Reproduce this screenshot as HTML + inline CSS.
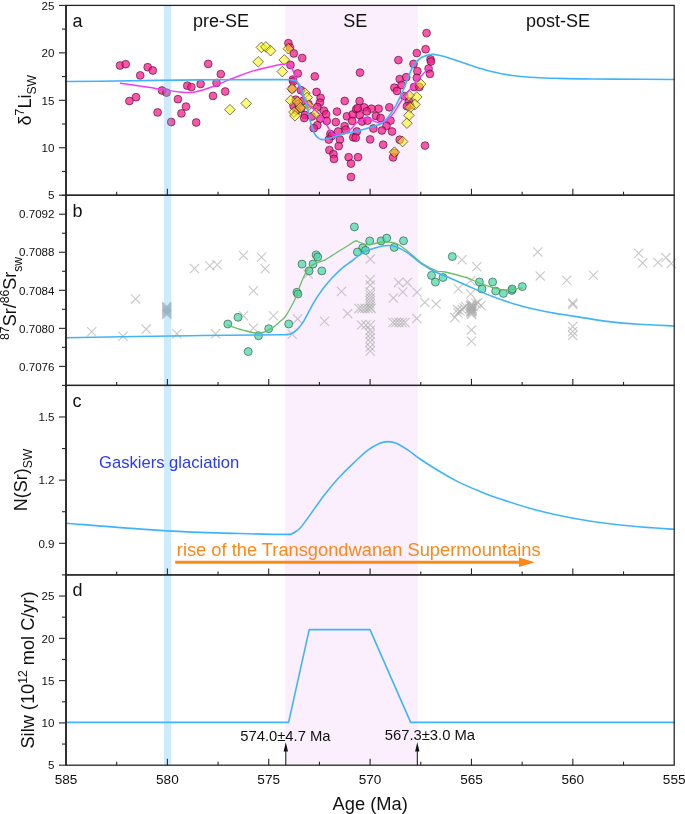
<!DOCTYPE html>
<html><head><meta charset="utf-8"><title>figure</title>
<style>html,body{margin:0;padding:0;background:#fff;} body{width:685px;height:814px;overflow:hidden;font-family:"Liberation Sans",sans-serif;} svg{display:block;will-change:transform;}</style>
</head><body>
<svg width="685" height="814" viewBox="0 0 685 814"><rect x="0" y="0" width="685" height="814" fill="#ffffff"/>
<rect x="285.0" y="5.4" width="133.0" height="759.8000000000001" fill="#fbeffd"/>
<g stroke="#3a0c24" stroke-width="0.75" stroke-opacity="0.8">
<circle cx="120.0" cy="65.5" r="3.9" fill="rgb(250,30,140)" fill-opacity="0.75"/>
<circle cx="125.7" cy="64.2" r="3.9" fill="rgb(250,30,140)" fill-opacity="0.75"/>
<circle cx="140.2" cy="75.4" r="3.9" fill="rgb(250,30,140)" fill-opacity="0.75"/>
<circle cx="147.7" cy="67.2" r="3.9" fill="rgb(250,30,140)" fill-opacity="0.75"/>
<circle cx="152.8" cy="70.5" r="3.9" fill="rgb(250,30,140)" fill-opacity="0.75"/>
<circle cx="129.4" cy="101.0" r="3.9" fill="rgb(250,30,140)" fill-opacity="0.75"/>
<circle cx="136.0" cy="97.2" r="3.9" fill="rgb(250,30,140)" fill-opacity="0.75"/>
<circle cx="157.6" cy="112.4" r="3.9" fill="rgb(250,30,140)" fill-opacity="0.75"/>
<circle cx="162.0" cy="90.5" r="3.9" fill="rgb(250,30,140)" fill-opacity="0.75"/>
<circle cx="166.5" cy="92.6" r="3.9" fill="rgb(250,30,140)" fill-opacity="0.75"/>
<circle cx="171.2" cy="122.0" r="3.9" fill="rgb(250,30,140)" fill-opacity="0.75"/>
<circle cx="177.9" cy="99.2" r="3.9" fill="rgb(250,30,140)" fill-opacity="0.75"/>
<circle cx="186.0" cy="106.6" r="3.9" fill="rgb(250,30,140)" fill-opacity="0.75"/>
<circle cx="181.4" cy="113.4" r="3.9" fill="rgb(250,30,140)" fill-opacity="0.75"/>
<circle cx="187.3" cy="85.7" r="3.9" fill="rgb(250,30,140)" fill-opacity="0.75"/>
<circle cx="191.4" cy="87.1" r="3.9" fill="rgb(250,30,140)" fill-opacity="0.75"/>
<circle cx="196.2" cy="122.5" r="3.9" fill="rgb(250,30,140)" fill-opacity="0.75"/>
<circle cx="200.6" cy="84.0" r="3.9" fill="rgb(250,30,140)" fill-opacity="0.75"/>
<circle cx="208.2" cy="63.9" r="3.9" fill="rgb(250,30,140)" fill-opacity="0.75"/>
<circle cx="220.8" cy="74.1" r="3.9" fill="rgb(250,30,140)" fill-opacity="0.75"/>
<circle cx="216.5" cy="82.9" r="3.9" fill="rgb(250,30,140)" fill-opacity="0.75"/>
<circle cx="225.2" cy="91.5" r="3.9" fill="rgb(250,30,140)" fill-opacity="0.75"/>
<circle cx="213.0" cy="95.9" r="3.9" fill="rgb(250,30,140)" fill-opacity="0.75"/>
<circle cx="288.4" cy="43.2" r="3.9" fill="rgb(250,30,140)" fill-opacity="0.75"/>
<circle cx="289.9" cy="47.5" r="3.9" fill="rgb(250,30,140)" fill-opacity="0.75"/>
<circle cx="293.8" cy="53.4" r="3.9" fill="rgb(250,30,140)" fill-opacity="0.75"/>
<circle cx="302.2" cy="58.0" r="3.9" fill="rgb(250,30,140)" fill-opacity="0.75"/>
<circle cx="290.5" cy="65.0" r="3.9" fill="rgb(250,30,140)" fill-opacity="0.75"/>
<circle cx="297.8" cy="73.4" r="3.9" fill="rgb(250,30,140)" fill-opacity="0.75"/>
<circle cx="314.8" cy="76.4" r="3.9" fill="rgb(250,30,140)" fill-opacity="0.75"/>
<circle cx="292.8" cy="79.6" r="3.9" fill="rgb(250,30,140)" fill-opacity="0.75"/>
<circle cx="293.2" cy="81.5" r="3.9" fill="rgb(250,30,140)" fill-opacity="0.75"/>
<circle cx="292.1" cy="88.8" r="3.9" fill="rgb(250,30,140)" fill-opacity="0.75"/>
<circle cx="300.9" cy="90.2" r="3.9" fill="rgb(250,30,140)" fill-opacity="0.75"/>
<circle cx="316.6" cy="92.0" r="3.9" fill="rgb(250,30,140)" fill-opacity="0.75"/>
<circle cx="320.6" cy="97.9" r="3.9" fill="rgb(250,30,140)" fill-opacity="0.75"/>
<circle cx="319.9" cy="102.6" r="3.9" fill="rgb(250,30,140)" fill-opacity="0.75"/>
<circle cx="295.8" cy="99.7" r="3.9" fill="rgb(250,30,140)" fill-opacity="0.75"/>
<circle cx="293.6" cy="105.9" r="3.9" fill="rgb(250,30,140)" fill-opacity="0.75"/>
<circle cx="308.5" cy="104.1" r="3.9" fill="rgb(250,30,140)" fill-opacity="0.75"/>
<circle cx="304.9" cy="115.0" r="3.9" fill="rgb(250,30,140)" fill-opacity="0.75"/>
<circle cx="304.2" cy="118.0" r="3.9" fill="rgb(250,30,140)" fill-opacity="0.75"/>
<circle cx="311.8" cy="116.5" r="3.9" fill="rgb(250,30,140)" fill-opacity="0.75"/>
<circle cx="317.3" cy="107.0" r="3.9" fill="rgb(250,30,140)" fill-opacity="0.75"/>
<circle cx="323.9" cy="110.7" r="3.9" fill="rgb(250,30,140)" fill-opacity="0.75"/>
<circle cx="326.1" cy="114.3" r="3.9" fill="rgb(250,30,140)" fill-opacity="0.75"/>
<circle cx="326.8" cy="120.9" r="3.9" fill="rgb(250,30,140)" fill-opacity="0.75"/>
<circle cx="320.2" cy="118.7" r="3.9" fill="rgb(250,30,140)" fill-opacity="0.75"/>
<circle cx="317.3" cy="125.3" r="3.9" fill="rgb(250,30,140)" fill-opacity="0.75"/>
<circle cx="313.7" cy="128.2" r="3.9" fill="rgb(250,30,140)" fill-opacity="0.75"/>
<circle cx="330.4" cy="134.0" r="3.9" fill="rgb(250,30,140)" fill-opacity="0.75"/>
<circle cx="344.7" cy="100.9" r="3.9" fill="rgb(250,30,140)" fill-opacity="0.75"/>
<circle cx="359.6" cy="101.1" r="3.9" fill="rgb(250,30,140)" fill-opacity="0.75"/>
<circle cx="337.0" cy="111.6" r="3.9" fill="rgb(250,30,140)" fill-opacity="0.75"/>
<circle cx="335.8" cy="122.1" r="3.9" fill="rgb(250,30,140)" fill-opacity="0.75"/>
<circle cx="346.9" cy="116.3" r="3.9" fill="rgb(250,30,140)" fill-opacity="0.75"/>
<circle cx="352.7" cy="114.5" r="3.9" fill="rgb(250,30,140)" fill-opacity="0.75"/>
<circle cx="356.2" cy="109.3" r="3.9" fill="rgb(250,30,140)" fill-opacity="0.75"/>
<circle cx="359.7" cy="115.1" r="3.9" fill="rgb(250,30,140)" fill-opacity="0.75"/>
<circle cx="352.2" cy="121.0" r="3.9" fill="rgb(250,30,140)" fill-opacity="0.75"/>
<circle cx="362.1" cy="121.5" r="3.9" fill="rgb(250,30,140)" fill-opacity="0.75"/>
<circle cx="344.6" cy="126.2" r="3.9" fill="rgb(250,30,140)" fill-opacity="0.75"/>
<circle cx="345.7" cy="129.7" r="3.9" fill="rgb(250,30,140)" fill-opacity="0.75"/>
<circle cx="338.1" cy="131.5" r="3.9" fill="rgb(250,30,140)" fill-opacity="0.75"/>
<circle cx="356.8" cy="131.5" r="3.9" fill="rgb(250,30,140)" fill-opacity="0.75"/>
<circle cx="353.3" cy="137.3" r="3.9" fill="rgb(250,30,140)" fill-opacity="0.75"/>
<circle cx="331.7" cy="136.1" r="3.9" fill="rgb(250,30,140)" fill-opacity="0.75"/>
<circle cx="328.8" cy="139.6" r="3.9" fill="rgb(250,30,140)" fill-opacity="0.75"/>
<circle cx="339.9" cy="139.6" r="3.9" fill="rgb(250,30,140)" fill-opacity="0.75"/>
<circle cx="338.7" cy="146.1" r="3.9" fill="rgb(250,30,140)" fill-opacity="0.75"/>
<circle cx="329.4" cy="150.1" r="3.9" fill="rgb(250,30,140)" fill-opacity="0.75"/>
<circle cx="333.5" cy="154.2" r="3.9" fill="rgb(250,30,140)" fill-opacity="0.75"/>
<circle cx="334.0" cy="158.9" r="3.9" fill="rgb(250,30,140)" fill-opacity="0.75"/>
<circle cx="348.6" cy="157.2" r="3.9" fill="rgb(250,30,140)" fill-opacity="0.75"/>
<circle cx="358.0" cy="157.2" r="3.9" fill="rgb(250,30,140)" fill-opacity="0.75"/>
<circle cx="351.0" cy="163.6" r="3.9" fill="rgb(250,30,140)" fill-opacity="0.75"/>
<circle cx="351.0" cy="177.0" r="3.9" fill="rgb(250,30,140)" fill-opacity="0.75"/>
<circle cx="360.0" cy="72.6" r="3.9" fill="rgb(250,30,140)" fill-opacity="0.75"/>
<circle cx="298.5" cy="104.0" r="3.9" fill="rgb(250,30,140)" fill-opacity="0.75"/>
<circle cx="301.0" cy="108.5" r="3.9" fill="rgb(250,30,140)" fill-opacity="0.75"/>
<circle cx="296.5" cy="110.5" r="3.9" fill="rgb(250,30,140)" fill-opacity="0.75"/>
<circle cx="303.0" cy="101.0" r="3.9" fill="rgb(250,30,140)" fill-opacity="0.75"/>
<circle cx="426.6" cy="33.1" r="3.9" fill="rgb(250,30,140)" fill-opacity="0.75"/>
<circle cx="425.6" cy="49.2" r="3.9" fill="rgb(250,30,140)" fill-opacity="0.75"/>
<circle cx="416.8" cy="53.1" r="3.9" fill="rgb(250,30,140)" fill-opacity="0.75"/>
<circle cx="398.4" cy="60.1" r="3.9" fill="rgb(250,30,140)" fill-opacity="0.75"/>
<circle cx="413.5" cy="64.0" r="3.9" fill="rgb(250,30,140)" fill-opacity="0.75"/>
<circle cx="430.5" cy="59.4" r="3.9" fill="rgb(250,30,140)" fill-opacity="0.75"/>
<circle cx="431.0" cy="61.5" r="3.9" fill="rgb(250,30,140)" fill-opacity="0.75"/>
<circle cx="417.4" cy="71.2" r="3.9" fill="rgb(250,30,140)" fill-opacity="0.75"/>
<circle cx="428.6" cy="68.6" r="3.9" fill="rgb(250,30,140)" fill-opacity="0.75"/>
<circle cx="429.9" cy="73.9" r="3.9" fill="rgb(250,30,140)" fill-opacity="0.75"/>
<circle cx="399.7" cy="79.1" r="3.9" fill="rgb(250,30,140)" fill-opacity="0.75"/>
<circle cx="406.2" cy="77.2" r="3.9" fill="rgb(250,30,140)" fill-opacity="0.75"/>
<circle cx="416.8" cy="77.8" r="3.9" fill="rgb(250,30,140)" fill-opacity="0.75"/>
<circle cx="401.6" cy="85.0" r="3.9" fill="rgb(250,30,140)" fill-opacity="0.75"/>
<circle cx="394.4" cy="87.7" r="3.9" fill="rgb(250,30,140)" fill-opacity="0.75"/>
<circle cx="397.0" cy="91.0" r="3.9" fill="rgb(250,30,140)" fill-opacity="0.75"/>
<circle cx="414.1" cy="87.0" r="3.9" fill="rgb(250,30,140)" fill-opacity="0.75"/>
<circle cx="419.4" cy="87.0" r="3.9" fill="rgb(250,30,140)" fill-opacity="0.75"/>
<circle cx="404.3" cy="96.2" r="3.9" fill="rgb(250,30,140)" fill-opacity="0.75"/>
<circle cx="408.9" cy="101.5" r="3.9" fill="rgb(250,30,140)" fill-opacity="0.75"/>
<circle cx="410.2" cy="105.4" r="3.9" fill="rgb(250,30,140)" fill-opacity="0.75"/>
<circle cx="389.3" cy="107.3" r="3.9" fill="rgb(250,30,140)" fill-opacity="0.75"/>
<circle cx="378.6" cy="108.7" r="3.9" fill="rgb(250,30,140)" fill-opacity="0.75"/>
<circle cx="371.4" cy="108.7" r="3.9" fill="rgb(250,30,140)" fill-opacity="0.75"/>
<circle cx="364.2" cy="107.4" r="3.9" fill="rgb(250,30,140)" fill-opacity="0.75"/>
<circle cx="357.6" cy="108.1" r="3.9" fill="rgb(250,30,140)" fill-opacity="0.75"/>
<circle cx="366.8" cy="111.4" r="3.9" fill="rgb(250,30,140)" fill-opacity="0.75"/>
<circle cx="376.0" cy="116.0" r="3.9" fill="rgb(250,30,140)" fill-opacity="0.75"/>
<circle cx="380.6" cy="118.0" r="3.9" fill="rgb(250,30,140)" fill-opacity="0.75"/>
<circle cx="367.5" cy="120.6" r="3.9" fill="rgb(250,30,140)" fill-opacity="0.75"/>
<circle cx="390.5" cy="120.6" r="3.9" fill="rgb(250,30,140)" fill-opacity="0.75"/>
<circle cx="386.5" cy="125.9" r="3.9" fill="rgb(250,30,140)" fill-opacity="0.75"/>
<circle cx="373.4" cy="128.5" r="3.9" fill="rgb(250,30,140)" fill-opacity="0.75"/>
<circle cx="381.9" cy="130.5" r="3.9" fill="rgb(250,30,140)" fill-opacity="0.75"/>
<circle cx="392.0" cy="131.5" r="3.9" fill="rgb(250,30,140)" fill-opacity="0.75"/>
<circle cx="370.1" cy="139.4" r="3.9" fill="rgb(250,30,140)" fill-opacity="0.75"/>
<circle cx="355.7" cy="137.7" r="3.9" fill="rgb(250,30,140)" fill-opacity="0.75"/>
<circle cx="383.2" cy="144.7" r="3.9" fill="rgb(250,30,140)" fill-opacity="0.75"/>
<circle cx="399.7" cy="139.7" r="3.9" fill="rgb(250,30,140)" fill-opacity="0.75"/>
<circle cx="394.4" cy="152.8" r="3.9" fill="rgb(250,30,140)" fill-opacity="0.75"/>
<circle cx="393.1" cy="157.4" r="3.9" fill="rgb(250,30,140)" fill-opacity="0.75"/>
<circle cx="425.0" cy="145.6" r="3.9" fill="rgb(250,30,140)" fill-opacity="0.75"/>
<circle cx="406.9" cy="106.2" r="3.9" fill="rgb(250,30,140)" fill-opacity="0.75"/>
</g>
<g stroke="#3a3a20" stroke-width="0.75" stroke-opacity="0.9">
<path d="M261.4,42.1L266.7,47.4L261.4,52.7L256.1,47.4Z" fill="rgb(252,245,10)" fill-opacity="0.55"/>
<path d="M265.9,41.6L271.2,46.9L265.9,52.2L260.6,46.9Z" fill="rgb(252,245,10)" fill-opacity="0.55"/>
<path d="M270.6,45.4L275.9,50.7L270.6,56.0L265.3,50.7Z" fill="rgb(252,245,10)" fill-opacity="0.55"/>
<path d="M258.2,56.5L263.5,61.8L258.2,67.1L252.9,61.8Z" fill="rgb(252,245,10)" fill-opacity="0.55"/>
<path d="M246.2,98.1L251.5,103.4L246.2,108.7L240.9,103.4Z" fill="rgb(252,245,10)" fill-opacity="0.55"/>
<path d="M229.9,104.4L235.2,109.7L229.9,115.0L224.6,109.7Z" fill="rgb(252,245,10)" fill-opacity="0.55"/>
<path d="M284.3,54.6L289.6,59.9L284.3,65.2L279.0,59.9Z" fill="rgb(252,245,10)" fill-opacity="0.55"/>
<path d="M282.3,66.3L287.6,71.6L282.3,76.9L277.0,71.6Z" fill="rgb(252,245,10)" fill-opacity="0.55"/>
<path d="M288.4,43.4L293.7,48.7L288.4,54.0L283.1,48.7Z" fill="rgb(252,245,10)" fill-opacity="0.55"/>
<path d="M290.7,95.1L296.0,100.4L290.7,105.7L285.4,100.4Z" fill="rgb(252,245,10)" fill-opacity="0.55"/>
<path d="M292.1,83.5L297.4,88.8L292.1,94.1L286.8,88.8Z" fill="rgb(252,245,10)" fill-opacity="0.55"/>
<path d="M304.9,87.8L310.2,93.1L304.9,98.4L299.6,93.1Z" fill="rgb(252,245,10)" fill-opacity="0.55"/>
<path d="M307.1,92.2L312.4,97.5L307.1,102.8L301.8,97.5Z" fill="rgb(252,245,10)" fill-opacity="0.55"/>
<path d="M297.6,96.6L302.9,101.9L297.6,107.2L292.3,101.9Z" fill="rgb(252,245,10)" fill-opacity="0.55"/>
<path d="M300.5,102.4L305.8,107.7L300.5,113.0L295.2,107.7Z" fill="rgb(252,245,10)" fill-opacity="0.55"/>
<path d="M294.0,106.8L299.3,112.1L294.0,117.4L288.7,112.1Z" fill="rgb(252,245,10)" fill-opacity="0.55"/>
<path d="M295.0,110.5L300.3,115.8L295.0,121.1L289.7,115.8Z" fill="rgb(252,245,10)" fill-opacity="0.55"/>
<path d="M308.5,100.2L313.8,105.5L308.5,110.8L303.2,105.5Z" fill="rgb(252,245,10)" fill-opacity="0.55"/>
<path d="M316.2,107.9L321.5,113.2L316.2,118.5L310.9,113.2Z" fill="rgb(252,245,10)" fill-opacity="0.55"/>
<path d="M420.7,78.8L426.0,84.1L420.7,89.4L415.4,84.1Z" fill="rgb(252,245,10)" fill-opacity="0.55"/>
<path d="M416.8,91.7L422.1,97.0L416.8,102.3L411.5,97.0Z" fill="rgb(252,245,10)" fill-opacity="0.55"/>
<path d="M408.9,90.2L414.2,95.5L408.9,100.8L403.6,95.5Z" fill="rgb(252,245,10)" fill-opacity="0.55"/>
<path d="M415.0,99.2L420.3,104.5L415.0,109.8L409.7,104.5Z" fill="rgb(252,245,10)" fill-opacity="0.55"/>
<path d="M410.2,102.2L415.5,107.5L410.2,112.8L404.9,107.5Z" fill="rgb(252,245,10)" fill-opacity="0.55"/>
<path d="M408.9,110.1L414.2,115.4L408.9,120.7L403.6,115.4Z" fill="rgb(252,245,10)" fill-opacity="0.55"/>
<path d="M406.9,117.9L412.2,123.2L406.9,128.5L401.6,123.2Z" fill="rgb(252,245,10)" fill-opacity="0.55"/>
<path d="M402.6,136.3L407.9,141.6L402.6,146.9L397.3,141.6Z" fill="rgb(252,245,10)" fill-opacity="0.55"/>
<path d="M394.4,146.9L399.7,152.2L394.4,157.5L389.1,152.2Z" fill="rgb(252,245,10)" fill-opacity="0.55"/>
</g>
<path d="M120.4,83.3 C123.7,83.8 132.3,84.9 140.0,86.0 C147.7,87.1 159.7,89.1 166.4,90.1 C173.1,91.1 175.5,91.6 180.0,92.0 C184.5,92.4 188.5,93.0 193.4,92.3 C198.3,91.6 204.5,89.5 209.6,87.7 C214.7,86.0 219.3,83.8 224.2,81.8 C229.1,79.8 233.9,77.8 238.8,76.0 C243.7,74.2 248.5,72.4 253.4,70.9 C258.3,69.4 263.1,68.3 268.0,67.2 C272.9,66.1 279.3,64.8 282.6,64.3 C285.9,63.8 286.6,63.6 288.0,63.9 C289.4,64.2 289.9,64.7 290.8,66.0 C291.7,67.3 292.6,69.7 293.5,72.0 C294.4,74.3 295.2,77.6 296.1,80.0 C297.0,82.4 297.8,83.5 299.0,86.5 C300.2,89.5 301.8,94.9 303.4,98.0 C305.0,101.1 306.4,102.9 308.5,105.0 C310.6,107.1 313.6,108.8 315.8,110.7 C318.0,112.6 319.9,114.1 321.7,116.5 C323.5,118.9 325.1,122.3 326.8,125.0 C328.5,127.7 329.9,130.8 331.7,132.5 C333.5,134.2 335.3,134.9 337.6,135.0 C339.9,135.1 343.4,134.3 345.7,133.2 C348.0,132.1 349.8,130.2 351.6,128.5 C353.4,126.8 354.8,124.4 356.5,123.0 C358.2,121.6 359.7,120.8 361.6,120.0 C363.5,119.2 365.9,117.8 368.1,118.0 C370.3,118.2 372.5,120.4 374.7,121.3 C376.9,122.2 379.1,123.5 381.3,123.2 C383.5,122.9 385.6,121.2 387.8,119.3 C390.0,117.4 392.4,114.8 394.4,112.1 C396.4,109.4 398.2,105.7 400.0,103.0 C401.8,100.3 402.8,98.9 404.9,96.0 C407.0,93.1 410.2,89.0 412.8,85.7 C415.4,82.5 418.5,79.0 420.7,76.5 C422.9,74.0 424.2,72.7 426.0,71.0 C427.8,69.3 430.3,67.2 431.2,66.5" fill="none" stroke="#f03cf0" stroke-width="1.45" stroke-linejoin="round" stroke-linecap="round" />
<path d="M66.0,81.5 C71.7,81.5 77.7,81.5 100.0,81.2 C122.3,80.9 170.0,80.2 200.0,79.9 C230.0,79.6 264.7,79.6 280.0,79.6 C295.3,79.6 289.2,79.6 292.0,79.9 C294.8,80.2 295.2,80.7 296.5,81.5 C297.8,82.3 298.6,83.5 299.5,85.0 C300.4,86.5 301.0,87.8 302.0,90.5 C303.0,93.2 304.3,97.9 305.3,101.0 C306.3,104.1 307.0,106.0 307.8,109.2 C308.6,112.4 309.2,116.8 310.0,120.0 C310.8,123.2 311.7,125.8 312.5,128.2 C313.3,130.6 314.0,132.8 315.0,134.5 C316.0,136.2 317.3,137.3 318.5,138.2 C319.7,139.0 320.6,139.6 322.4,139.6 C324.2,139.6 326.9,139.0 329.2,138.4 C331.5,137.8 333.6,137.0 336.0,136.2 C338.4,135.4 340.1,134.7 343.8,133.8 C347.5,132.9 353.5,132.1 358.4,130.9 C363.3,129.7 369.2,127.7 373.0,126.5 C376.8,125.3 378.9,125.0 381.3,123.5 C383.7,122.0 385.7,119.8 387.6,117.7 C389.5,115.6 391.0,113.2 392.5,111.0 C394.0,108.8 395.1,106.9 396.4,104.6 C397.6,102.3 398.8,99.8 400.0,97.3 C401.2,94.8 402.2,92.5 403.5,89.5 C404.8,86.5 405.9,83.1 407.6,79.1 C409.3,75.1 411.3,69.0 413.5,65.5 C415.7,62.0 418.2,59.8 420.7,58.0 C423.2,56.2 426.4,55.5 428.6,54.9 C430.8,54.3 431.1,54.1 433.8,54.4 C436.5,54.7 440.9,55.6 445.0,56.8 C449.1,57.9 453.9,59.7 458.7,61.3 C463.5,62.9 468.9,64.9 474.0,66.5 C479.1,68.1 484.8,69.8 489.6,71.0 C494.4,72.2 498.5,73.2 503.0,74.0 C507.5,74.8 511.4,75.4 516.7,76.0 C522.0,76.6 528.5,77.1 535.0,77.5 C541.5,77.9 547.1,78.1 555.4,78.3 C563.7,78.5 575.3,78.8 585.0,78.9 C594.7,79.0 598.5,79.0 613.4,79.1 C628.3,79.2 664.1,79.4 674.2,79.5" fill="none" stroke="#40b4f8" stroke-width="1.6" stroke-linejoin="round" stroke-linecap="round" />
<g stroke="rgb(172,172,172)" stroke-opacity="0.65" stroke-width="1.15" fill="none">
<path d="M87.1,327.2L96.3,336.4M87.1,336.4L96.3,327.2"/>
<path d="M118.4,331.7L127.6,340.9M118.4,340.9L127.6,331.7"/>
<path d="M131.0,294.3L140.2,303.5M131.0,303.5L140.2,294.3"/>
<path d="M141.6,324.5L150.8,333.7M141.6,333.7L150.8,324.5"/>
<path d="M162.2,301.9L171.4,311.1M162.2,311.1L171.4,301.9"/>
<path d="M162.2,302.9L171.4,312.1M162.2,312.1L171.4,302.9"/>
<path d="M162.2,303.9L171.4,313.1M162.2,313.1L171.4,303.9"/>
<path d="M162.2,304.9L171.4,314.1M162.2,314.1L171.4,304.9"/>
<path d="M162.2,305.9L171.4,315.1M162.2,315.1L171.4,305.9"/>
<path d="M162.2,306.9L171.4,316.1M162.2,316.1L171.4,306.9"/>
<path d="M162.2,307.9L171.4,317.1M162.2,317.1L171.4,307.9"/>
<path d="M162.2,308.9L171.4,318.1M162.2,318.1L171.4,308.9"/>
<path d="M162.2,309.9L171.4,319.1M162.2,319.1L171.4,309.9"/>
<path d="M172.3,329.2L181.5,338.4M172.3,338.4L181.5,329.2"/>
<path d="M189.9,264.0L199.1,273.2M189.9,273.2L199.1,264.0"/>
<path d="M205.2,261.2L214.4,270.4M205.2,270.4L214.4,261.2"/>
<path d="M212.6,260.1L221.8,269.3M212.6,269.3L221.8,260.1"/>
<path d="M238.9,250.9L248.1,260.1M238.9,260.1L248.1,250.9"/>
<path d="M256.9,252.6L266.1,261.8M256.9,261.8L266.1,252.6"/>
<path d="M260.6,264.2L269.8,273.4M260.6,273.4L269.8,264.2"/>
<path d="M248.8,286.1L258.0,295.3M248.8,295.3L258.0,286.1"/>
<path d="M210.9,329.2L220.1,338.4M210.9,338.4L220.1,329.2"/>
<path d="M238.9,311.2L248.1,320.4M238.9,320.4L248.1,311.2"/>
<path d="M268.8,311.2L278.0,320.4M268.8,320.4L278.0,311.2"/>
<path d="M248.8,323.5L258.0,332.7M248.8,332.7L258.0,323.5"/>
<path d="M293.1,314.3L302.3,323.5M293.1,323.5L302.3,314.3"/>
<path d="M287.6,329.6L296.8,338.8M287.6,338.8L296.8,329.6"/>
<path d="M303.5,269.3L312.7,278.5M303.5,278.5L312.7,269.3"/>
<path d="M319.9,316.6L329.1,325.8M319.9,325.8L329.1,316.6"/>
<path d="M365.6,254.5L374.8,263.7M365.6,263.7L374.8,254.5"/>
<path d="M365.6,275.2L374.8,284.4M365.6,284.4L374.8,275.2"/>
<path d="M365.6,280.5L374.8,289.7M365.6,289.7L374.8,280.5"/>
<path d="M365.6,287.4L374.8,296.6M365.6,296.6L374.8,287.4"/>
<path d="M365.6,290.4L374.8,299.6M365.6,299.6L374.8,290.4"/>
<path d="M365.6,293.4L374.8,302.6M365.6,302.6L374.8,293.4"/>
<path d="M365.6,296.4L374.8,305.6M365.6,305.6L374.8,296.4"/>
<path d="M365.6,299.4L374.8,308.6M365.6,308.6L374.8,299.4"/>
<path d="M365.6,302.4L374.8,311.6M365.6,311.6L374.8,302.4"/>
<path d="M354.4,303.8L363.6,313.0M354.4,313.0L363.6,303.8"/>
<path d="M357.4,303.8L366.6,313.0M357.4,313.0L366.6,303.8"/>
<path d="M360.4,303.8L369.6,313.0M360.4,313.0L369.6,303.8"/>
<path d="M363.4,303.8L372.6,313.0M363.4,313.0L372.6,303.8"/>
<path d="M366.4,303.8L375.6,313.0M366.4,313.0L375.6,303.8"/>
<path d="M356.9,320.4L366.1,329.6M356.9,329.6L366.1,320.4"/>
<path d="M361.4,320.4L370.6,329.6M361.4,329.6L370.6,320.4"/>
<path d="M365.7,320.4L374.9,329.6M365.7,329.6L374.9,320.4"/>
<path d="M365.6,325.7L374.8,334.9M365.6,334.9L374.8,325.7"/>
<path d="M365.6,329.4L374.8,338.6M365.6,338.6L374.8,329.4"/>
<path d="M365.6,333.4L374.8,342.6M365.6,342.6L374.8,333.4"/>
<path d="M365.6,337.4L374.8,346.6M365.6,346.6L374.8,337.4"/>
<path d="M365.6,342.4L374.8,351.6M365.6,351.6L374.8,342.4"/>
<path d="M365.6,346.4L374.8,355.6M365.6,355.6L374.8,346.4"/>
<path d="M336.9,286.9L346.1,296.1M336.9,296.1L346.1,286.9"/>
<path d="M343.0,309.0L352.2,318.2M343.0,318.2L352.2,309.0"/>
<path d="M388.7,293.4L397.9,302.6M388.7,302.6L397.9,293.4"/>
<path d="M394.0,277.8L403.2,287.0M394.0,287.0L403.2,277.8"/>
<path d="M402.7,277.8L411.9,287.0M402.7,287.0L411.9,277.8"/>
<path d="M398.2,287.4L407.4,296.6M398.2,296.6L407.4,287.4"/>
<path d="M412.4,287.7L421.6,296.9M412.4,296.9L421.6,287.7"/>
<path d="M420.2,297.8L429.4,307.0M420.2,307.0L429.4,297.8"/>
<path d="M431.5,299.5L440.7,308.7M431.5,308.7L440.7,299.5"/>
<path d="M412.2,314.0L421.4,323.2M412.2,323.2L421.4,314.0"/>
<path d="M388.4,317.9L397.6,327.1M388.4,327.1L397.6,317.9"/>
<path d="M391.4,317.9L400.6,327.1M391.4,327.1L400.6,317.9"/>
<path d="M394.4,317.9L403.6,327.1M394.4,327.1L403.6,317.9"/>
<path d="M397.4,317.9L406.6,327.1M397.4,327.1L406.6,317.9"/>
<path d="M400.4,317.9L409.6,327.1M400.4,327.1L409.6,317.9"/>
<path d="M457.3,255.2L466.5,264.4M457.3,264.4L466.5,255.2"/>
<path d="M472.2,262.2L481.4,271.4M472.2,271.4L481.4,262.2"/>
<path d="M466.1,276.2L475.3,285.4M466.1,285.4L475.3,276.2"/>
<path d="M453.8,284.1L463.0,293.3M453.8,293.3L463.0,284.1"/>
<path d="M466.1,289.4L475.3,298.6M466.1,298.6L475.3,289.4"/>
<path d="M466.9,299.4L476.1,308.6M466.9,308.6L476.1,299.4"/>
<path d="M466.9,300.9L476.1,310.1M466.9,310.1L476.1,300.9"/>
<path d="M466.9,302.4L476.1,311.6M466.9,311.6L476.1,302.4"/>
<path d="M466.9,303.9L476.1,313.1M466.9,313.1L476.1,303.9"/>
<path d="M466.9,305.4L476.1,314.6M466.9,314.6L476.1,305.4"/>
<path d="M466.9,306.9L476.1,316.1M466.9,316.1L476.1,306.9"/>
<path d="M466.9,308.4L476.1,317.6M466.9,317.6L476.1,308.4"/>
<path d="M466.9,309.9L476.1,319.1M466.9,319.1L476.1,309.9"/>
<path d="M465.9,301.4L475.1,310.6M465.9,310.6L475.1,301.4"/>
<path d="M467.9,304.4L477.1,313.6M467.9,313.6L477.1,304.4"/>
<path d="M465.9,307.4L475.1,316.6M465.9,316.6L475.1,307.4"/>
<path d="M467.9,306.4L477.1,315.6M467.9,315.6L477.1,306.4"/>
<path d="M468.4,301.9L477.6,311.1M468.4,311.1L477.6,301.9"/>
<path d="M465.4,303.9L474.6,313.1M465.4,313.1L474.6,303.9"/>
<path d="M455.4,306.4L464.6,315.6M455.4,315.6L464.6,306.4"/>
<path d="M457.4,304.9L466.6,314.1M457.4,314.1L466.6,304.9"/>
<path d="M459.4,303.4L468.6,312.6M459.4,312.6L468.6,303.4"/>
<path d="M460.9,301.9L470.1,311.1M460.9,311.1L470.1,301.9"/>
<path d="M453.4,308.4L462.6,317.6M453.4,317.6L462.6,308.4"/>
<path d="M473.4,297.9L482.6,307.1M473.4,307.1L482.6,297.9"/>
<path d="M476.4,300.9L485.6,310.1M476.4,310.1L485.6,300.9"/>
<path d="M471.4,298.9L480.6,308.1M471.4,308.1L480.6,298.9"/>
<path d="M450.3,313.0L459.5,322.2M450.3,322.2L459.5,313.0"/>
<path d="M452.9,305.1L462.1,314.3M452.9,314.3L462.1,305.1"/>
<path d="M466.9,325.3L476.1,334.5M466.9,334.5L476.1,325.3"/>
<path d="M466.9,336.6L476.1,345.8M466.9,345.8L476.1,336.6"/>
<path d="M533.2,247.3L542.4,256.5M533.2,256.5L542.4,247.3"/>
<path d="M535.6,271.3L544.8,280.5M535.6,280.5L544.8,271.3"/>
<path d="M562.2,275.7L571.4,284.9M562.2,284.9L571.4,275.7"/>
<path d="M588.8,270.7L598.0,279.9M588.8,279.9L598.0,270.7"/>
<path d="M568.1,298.3L577.3,307.5M568.1,307.5L577.3,298.3"/>
<path d="M568.4,299.9L577.6,309.1M568.4,309.1L577.6,299.9"/>
<path d="M568.1,322.0L577.3,331.2M568.1,331.2L577.3,322.0"/>
<path d="M568.1,326.9L577.3,336.1M568.1,336.1L577.3,326.9"/>
<path d="M568.1,330.8L577.3,340.0M568.1,340.0L577.3,330.8"/>
<path d="M634.1,248.7L643.3,257.9M634.1,257.9L643.3,248.7"/>
<path d="M638.0,258.5L647.2,267.7M638.0,267.7L647.2,258.5"/>
<path d="M653.4,257.9L662.6,267.1M653.4,267.1L662.6,257.9"/>
<path d="M661.3,253.0L670.5,262.2M661.3,262.2L670.5,253.0"/>
<path d="M666.6,258.9L675.8,268.1M666.6,268.1L675.8,258.9"/>
</g>
<g stroke="#34443c" stroke-width="0.6">
<circle cx="227.8" cy="324.0" r="4.0" fill="rgb(75,219,168)" fill-opacity="0.75"/>
<circle cx="238.0" cy="317.3" r="4.0" fill="rgb(75,219,168)" fill-opacity="0.75"/>
<circle cx="258.5" cy="335.7" r="4.0" fill="rgb(75,219,168)" fill-opacity="0.75"/>
<circle cx="268.7" cy="328.7" r="4.0" fill="rgb(75,219,168)" fill-opacity="0.75"/>
<circle cx="248.2" cy="351.6" r="4.0" fill="rgb(75,219,168)" fill-opacity="0.75"/>
<circle cx="288.7" cy="324.0" r="4.0" fill="rgb(75,219,168)" fill-opacity="0.75"/>
<circle cx="296.9" cy="292.3" r="4.0" fill="rgb(75,219,168)" fill-opacity="0.75"/>
<circle cx="297.9" cy="294.0" r="4.0" fill="rgb(75,219,168)" fill-opacity="0.75"/>
<circle cx="302.0" cy="264.1" r="4.0" fill="rgb(75,219,168)" fill-opacity="0.75"/>
<circle cx="309.1" cy="270.9" r="4.0" fill="rgb(75,219,168)" fill-opacity="0.75"/>
<circle cx="313.0" cy="264.1" r="4.0" fill="rgb(75,219,168)" fill-opacity="0.75"/>
<circle cx="316.1" cy="254.9" r="4.0" fill="rgb(75,219,168)" fill-opacity="0.75"/>
<circle cx="317.7" cy="257.0" r="4.0" fill="rgb(75,219,168)" fill-opacity="0.75"/>
<circle cx="321.8" cy="270.9" r="4.0" fill="rgb(75,219,168)" fill-opacity="0.75"/>
<circle cx="354.4" cy="226.9" r="4.0" fill="rgb(75,219,168)" fill-opacity="0.75"/>
<circle cx="369.7" cy="240.9" r="4.0" fill="rgb(75,219,168)" fill-opacity="0.75"/>
<circle cx="362.7" cy="247.9" r="4.0" fill="rgb(75,219,168)" fill-opacity="0.75"/>
<circle cx="357.4" cy="252.1" r="4.0" fill="rgb(75,219,168)" fill-opacity="0.75"/>
<circle cx="365.6" cy="250.4" r="4.0" fill="rgb(75,219,168)" fill-opacity="0.75"/>
<circle cx="381.1" cy="240.9" r="4.0" fill="rgb(75,219,168)" fill-opacity="0.75"/>
<circle cx="386.7" cy="238.1" r="4.0" fill="rgb(75,219,168)" fill-opacity="0.75"/>
<circle cx="394.2" cy="247.4" r="4.0" fill="rgb(75,219,168)" fill-opacity="0.75"/>
<circle cx="403.5" cy="240.8" r="4.0" fill="rgb(75,219,168)" fill-opacity="0.75"/>
<circle cx="431.5" cy="275.4" r="4.0" fill="rgb(75,219,168)" fill-opacity="0.75"/>
<circle cx="435.4" cy="282.1" r="4.0" fill="rgb(75,219,168)" fill-opacity="0.75"/>
<circle cx="443.0" cy="277.5" r="4.0" fill="rgb(75,219,168)" fill-opacity="0.75"/>
<circle cx="452.3" cy="256.6" r="4.0" fill="rgb(75,219,168)" fill-opacity="0.75"/>
<circle cx="479.4" cy="282.0" r="4.0" fill="rgb(75,219,168)" fill-opacity="0.75"/>
<circle cx="482.0" cy="289.0" r="4.0" fill="rgb(75,219,168)" fill-opacity="0.75"/>
<circle cx="492.6" cy="282.0" r="4.0" fill="rgb(75,219,168)" fill-opacity="0.75"/>
<circle cx="495.7" cy="291.0" r="4.0" fill="rgb(75,219,168)" fill-opacity="0.75"/>
<circle cx="503.4" cy="293.4" r="4.0" fill="rgb(75,219,168)" fill-opacity="0.75"/>
<circle cx="511.8" cy="290.4" r="4.0" fill="rgb(75,219,168)" fill-opacity="0.75"/>
<circle cx="512.2" cy="289.0" r="4.0" fill="rgb(75,219,168)" fill-opacity="0.75"/>
<circle cx="522.3" cy="286.6" r="4.0" fill="rgb(75,219,168)" fill-opacity="0.75"/>
</g>
<path d="M227.8,325.0 C230.4,325.9 237.8,328.7 243.1,330.1 C248.4,331.5 254.7,333.5 259.5,333.2 C264.3,332.9 268.3,330.1 271.7,328.1 C275.1,326.2 277.8,323.4 280.0,321.5 C282.2,319.6 283.2,319.4 285.0,317.0 C286.8,314.6 289.1,310.5 290.9,307.2 C292.7,303.9 294.3,300.8 295.8,297.4 C297.3,293.9 298.2,290.3 299.7,286.5 C301.2,282.7 303.0,278.0 304.7,274.7 C306.4,271.4 307.6,268.8 309.6,266.9 C311.6,264.9 313.9,264.2 316.5,263.0 C319.1,261.8 322.7,261.0 325.3,259.8 C327.9,258.6 329.4,257.2 332.0,255.6 C334.6,254.0 338.0,251.8 340.8,250.0 C343.6,248.2 346.6,246.5 349.0,245.0 C351.4,243.5 353.7,241.2 355.5,240.8 C357.3,240.4 357.9,241.8 360.0,242.5 C362.1,243.2 365.4,244.6 367.9,244.8 C370.4,245.0 372.5,243.9 375.0,243.5 C377.5,243.1 379.4,242.3 382.8,242.2 C386.2,242.1 391.0,241.6 395.1,243.0 C399.2,244.4 402.6,247.4 407.3,250.9 C412.0,254.4 418.1,260.7 423.1,264.1 C428.1,267.5 433.4,269.8 437.1,271.1 C440.8,272.4 440.4,270.9 445.3,272.0 C450.2,273.1 459.9,275.6 466.3,277.7 C472.7,279.8 478.0,282.7 483.8,284.7 C489.6,286.7 496.6,288.8 501.3,289.6 C506.0,290.4 508.5,289.8 512.0,289.5 C515.5,289.2 520.6,288.1 522.3,287.8" fill="none" stroke="#68bf68" stroke-width="1.3" stroke-linejoin="round" stroke-linecap="round" />
<path d="M66.1,337.7 C86.8,337.4 154.3,336.2 190.0,335.7 C225.7,335.2 264.2,335.0 280.0,334.8 C295.8,334.6 283.2,334.9 285.0,334.7 C286.8,334.5 288.9,334.5 290.9,333.7 C292.9,332.9 294.8,331.6 296.8,329.8 C298.8,328.0 300.7,325.8 302.7,322.9 C304.7,319.9 306.6,315.7 308.6,312.1 C310.6,308.5 312.5,304.6 314.5,301.3 C316.5,298.0 318.4,295.2 320.4,292.4 C322.4,289.6 324.3,287.1 326.3,284.6 C328.3,282.2 330.2,279.8 332.2,277.7 C334.2,275.6 336.0,273.8 338.1,271.8 C340.2,269.8 342.9,267.5 345.0,265.9 C347.1,264.3 347.9,263.8 350.4,262.0 C352.8,260.2 356.6,256.9 359.7,254.9 C362.8,252.9 364.6,251.5 368.8,250.0 C373.0,248.5 380.2,246.3 384.6,245.7 C389.0,245.1 391.3,245.3 395.1,246.5 C398.9,247.7 402.6,249.6 407.3,252.7 C412.0,255.8 418.1,261.5 423.1,264.9 C428.1,268.2 432.8,270.7 437.1,272.8 C441.4,274.9 443.9,275.5 448.8,277.6 C453.7,279.7 459.0,282.0 466.3,285.2 C473.6,288.4 483.9,293.2 492.6,296.6 C501.4,300.0 510.0,302.8 518.8,305.3 C527.5,307.8 538.2,310.0 545.1,311.5 C552.0,313.0 554.2,313.2 560.0,314.1 C565.8,315.0 571.4,315.9 579.6,317.1 C587.8,318.4 599.2,320.4 609.1,321.6 C619.0,322.8 627.9,323.5 638.7,324.2 C649.6,324.9 668.3,325.7 674.2,326.0" fill="none" stroke="#40b4f8" stroke-width="1.6" stroke-linejoin="round" stroke-linecap="round" />
<path d="M66.0,523.2 C82.7,524.5 137.3,529.2 166.3,530.9 C195.3,532.6 220.0,532.9 240.0,533.5 C260.0,534.1 277.7,534.4 286.3,534.4 C294.9,534.4 290.1,534.2 291.7,533.7 C293.3,533.2 294.6,532.5 296.0,531.5 C297.4,530.5 298.2,530.4 300.4,527.8 C302.6,525.2 305.3,521.5 309.2,516.1 C313.1,510.8 318.9,502.0 323.8,495.7 C328.7,489.4 333.5,483.5 338.4,478.2 C343.3,472.9 348.1,468.2 353.0,463.6 C357.9,459.0 363.2,453.7 367.6,450.4 C372.0,447.1 375.9,445.1 379.3,443.6 C382.7,442.1 385.1,441.6 388.0,441.6 C390.9,441.6 393.4,441.9 396.8,443.4 C400.2,444.9 404.6,447.8 408.5,450.4 C412.4,453.0 415.0,455.5 420.1,459.0 C425.2,462.5 432.9,467.4 439.3,471.3 C445.7,475.2 452.2,478.9 458.7,482.1 C465.1,485.3 471.6,488.0 478.0,490.6 C484.4,493.2 487.7,494.8 497.4,498.0 C507.1,501.2 523.1,506.6 536.0,510.0 C548.9,513.4 561.8,516.1 574.7,518.5 C587.6,520.9 600.5,522.8 613.4,524.3 C626.3,525.8 642.0,527.0 652.1,527.8 C662.2,528.6 670.5,529.0 674.2,529.3" fill="none" stroke="#40b4f8" stroke-width="1.6" stroke-linejoin="round" stroke-linecap="round" />
<path d="M66.0,722.4 L288.6,722.4 L309.2,629.6 L370.0,629.6 L410.7,722.4 L674.2,722.4" fill="none" stroke="#40b4f8" stroke-width="1.6" stroke-linejoin="round" stroke-linecap="round" />
<rect x="164.0" y="5.4" width="7.199999999999989" height="759.8000000000001" fill="rgb(88,188,248)" fill-opacity="0.3"/>
<g stroke="#262626" fill="none">
<rect x="66.0" y="5.4" width="608.2" height="189.79999999999998" stroke-width="1.3"/>
<rect x="66.0" y="195.2" width="608.2" height="190.2" stroke-width="1.3"/>
<rect x="66.0" y="385.4" width="608.2" height="189.5" stroke-width="1.3"/>
<rect x="66.0" y="574.9" width="608.2" height="190.30000000000007" stroke-width="1.3"/>
<line x1="66.0" y1="5.4" x2="66.0" y2="765.2" stroke-width="1.7"/>
<line x1="116.68" y1="195.2" x2="116.68" y2="191.7" stroke-width="1.1"/>
<line x1="167.37" y1="195.2" x2="167.37" y2="188.7" stroke-width="1.1"/>
<line x1="218.05" y1="195.2" x2="218.05" y2="191.7" stroke-width="1.1"/>
<line x1="268.73" y1="195.2" x2="268.73" y2="188.7" stroke-width="1.1"/>
<line x1="319.42" y1="195.2" x2="319.42" y2="191.7" stroke-width="1.1"/>
<line x1="370.10" y1="195.2" x2="370.10" y2="188.7" stroke-width="1.1"/>
<line x1="420.78" y1="195.2" x2="420.78" y2="191.7" stroke-width="1.1"/>
<line x1="471.47" y1="195.2" x2="471.47" y2="188.7" stroke-width="1.1"/>
<line x1="522.15" y1="195.2" x2="522.15" y2="191.7" stroke-width="1.1"/>
<line x1="572.83" y1="195.2" x2="572.83" y2="188.7" stroke-width="1.1"/>
<line x1="623.52" y1="195.2" x2="623.52" y2="191.7" stroke-width="1.1"/>
<line x1="116.68" y1="385.4" x2="116.68" y2="381.9" stroke-width="1.1"/>
<line x1="167.37" y1="385.4" x2="167.37" y2="378.9" stroke-width="1.1"/>
<line x1="218.05" y1="385.4" x2="218.05" y2="381.9" stroke-width="1.1"/>
<line x1="268.73" y1="385.4" x2="268.73" y2="378.9" stroke-width="1.1"/>
<line x1="319.42" y1="385.4" x2="319.42" y2="381.9" stroke-width="1.1"/>
<line x1="370.10" y1="385.4" x2="370.10" y2="378.9" stroke-width="1.1"/>
<line x1="420.78" y1="385.4" x2="420.78" y2="381.9" stroke-width="1.1"/>
<line x1="471.47" y1="385.4" x2="471.47" y2="378.9" stroke-width="1.1"/>
<line x1="522.15" y1="385.4" x2="522.15" y2="381.9" stroke-width="1.1"/>
<line x1="572.83" y1="385.4" x2="572.83" y2="378.9" stroke-width="1.1"/>
<line x1="623.52" y1="385.4" x2="623.52" y2="381.9" stroke-width="1.1"/>
<line x1="116.68" y1="574.9" x2="116.68" y2="571.4" stroke-width="1.1"/>
<line x1="167.37" y1="574.9" x2="167.37" y2="568.4" stroke-width="1.1"/>
<line x1="218.05" y1="574.9" x2="218.05" y2="571.4" stroke-width="1.1"/>
<line x1="268.73" y1="574.9" x2="268.73" y2="568.4" stroke-width="1.1"/>
<line x1="319.42" y1="574.9" x2="319.42" y2="571.4" stroke-width="1.1"/>
<line x1="370.10" y1="574.9" x2="370.10" y2="568.4" stroke-width="1.1"/>
<line x1="420.78" y1="574.9" x2="420.78" y2="571.4" stroke-width="1.1"/>
<line x1="471.47" y1="574.9" x2="471.47" y2="568.4" stroke-width="1.1"/>
<line x1="522.15" y1="574.9" x2="522.15" y2="571.4" stroke-width="1.1"/>
<line x1="572.83" y1="574.9" x2="572.83" y2="568.4" stroke-width="1.1"/>
<line x1="623.52" y1="574.9" x2="623.52" y2="571.4" stroke-width="1.1"/>
<line x1="116.68" y1="765.2" x2="116.68" y2="761.7" stroke-width="1.1"/>
<line x1="167.37" y1="765.2" x2="167.37" y2="758.7" stroke-width="1.1"/>
<line x1="218.05" y1="765.2" x2="218.05" y2="761.7" stroke-width="1.1"/>
<line x1="268.73" y1="765.2" x2="268.73" y2="758.7" stroke-width="1.1"/>
<line x1="319.42" y1="765.2" x2="319.42" y2="761.7" stroke-width="1.1"/>
<line x1="370.10" y1="765.2" x2="370.10" y2="758.7" stroke-width="1.1"/>
<line x1="420.78" y1="765.2" x2="420.78" y2="761.7" stroke-width="1.1"/>
<line x1="471.47" y1="765.2" x2="471.47" y2="758.7" stroke-width="1.1"/>
<line x1="522.15" y1="765.2" x2="522.15" y2="761.7" stroke-width="1.1"/>
<line x1="572.83" y1="765.2" x2="572.83" y2="758.7" stroke-width="1.1"/>
<line x1="623.52" y1="765.2" x2="623.52" y2="761.7" stroke-width="1.1"/>
<line x1="59.0" y1="195.20" x2="66.0" y2="195.20" stroke-width="1.1"/>
<line x1="62.0" y1="171.47" x2="66.0" y2="171.47" stroke-width="1.1"/>
<line x1="59.0" y1="147.75" x2="66.0" y2="147.75" stroke-width="1.1"/>
<line x1="62.0" y1="124.02" x2="66.0" y2="124.02" stroke-width="1.1"/>
<line x1="59.0" y1="100.30" x2="66.0" y2="100.30" stroke-width="1.1"/>
<line x1="62.0" y1="76.58" x2="66.0" y2="76.58" stroke-width="1.1"/>
<line x1="59.0" y1="52.85" x2="66.0" y2="52.85" stroke-width="1.1"/>
<line x1="62.0" y1="29.12" x2="66.0" y2="29.12" stroke-width="1.1"/>
<line x1="59.0" y1="5.40" x2="66.0" y2="5.40" stroke-width="1.1"/>
<line x1="62.0" y1="385.40" x2="66.0" y2="385.40" stroke-width="1.1"/>
<line x1="59.0" y1="366.38" x2="66.0" y2="366.38" stroke-width="1.1"/>
<line x1="62.0" y1="347.36" x2="66.0" y2="347.36" stroke-width="1.1"/>
<line x1="59.0" y1="328.34" x2="66.0" y2="328.34" stroke-width="1.1"/>
<line x1="62.0" y1="309.32" x2="66.0" y2="309.32" stroke-width="1.1"/>
<line x1="59.0" y1="290.30" x2="66.0" y2="290.30" stroke-width="1.1"/>
<line x1="62.0" y1="271.28" x2="66.0" y2="271.28" stroke-width="1.1"/>
<line x1="59.0" y1="252.26" x2="66.0" y2="252.26" stroke-width="1.1"/>
<line x1="62.0" y1="233.24" x2="66.0" y2="233.24" stroke-width="1.1"/>
<line x1="59.0" y1="214.22" x2="66.0" y2="214.22" stroke-width="1.1"/>
<line x1="62.0" y1="195.20" x2="66.0" y2="195.20" stroke-width="1.1"/>
<line x1="62.0" y1="511.73" x2="66.0" y2="511.73" stroke-width="1.1"/>
<line x1="62.0" y1="448.57" x2="66.0" y2="448.57" stroke-width="1.1"/>
<line x1="59.0" y1="543.32" x2="66.0" y2="543.32" stroke-width="1.1"/>
<line x1="59.0" y1="480.15" x2="66.0" y2="480.15" stroke-width="1.1"/>
<line x1="59.0" y1="416.98" x2="66.0" y2="416.98" stroke-width="1.1"/>
<line x1="59.0" y1="765.20" x2="66.0" y2="765.20" stroke-width="1.1"/>
<line x1="62.0" y1="744.06" x2="66.0" y2="744.06" stroke-width="1.1"/>
<line x1="59.0" y1="722.91" x2="66.0" y2="722.91" stroke-width="1.1"/>
<line x1="62.0" y1="701.77" x2="66.0" y2="701.77" stroke-width="1.1"/>
<line x1="59.0" y1="680.62" x2="66.0" y2="680.62" stroke-width="1.1"/>
<line x1="62.0" y1="659.48" x2="66.0" y2="659.48" stroke-width="1.1"/>
<line x1="59.0" y1="638.33" x2="66.0" y2="638.33" stroke-width="1.1"/>
<line x1="62.0" y1="617.19" x2="66.0" y2="617.19" stroke-width="1.1"/>
<line x1="59.0" y1="596.04" x2="66.0" y2="596.04" stroke-width="1.1"/>
<line x1="62.0" y1="574.90" x2="66.0" y2="574.90" stroke-width="1.1"/>
</g>
<text x="54.5" y="199.3" text-anchor="end" font-size="11.6" font-family="Liberation Sans, sans-serif" fill="#111">5</text>
<text x="54.5" y="151.9" text-anchor="end" font-size="11.6" font-family="Liberation Sans, sans-serif" fill="#111">10</text>
<text x="54.5" y="104.5" text-anchor="end" font-size="11.6" font-family="Liberation Sans, sans-serif" fill="#111">15</text>
<text x="54.5" y="57.0" text-anchor="end" font-size="11.6" font-family="Liberation Sans, sans-serif" fill="#111">20</text>
<text x="54.5" y="9.6" text-anchor="end" font-size="11.6" font-family="Liberation Sans, sans-serif" fill="#111">25</text>
<text x="54.5" y="370.5" text-anchor="end" font-size="11.6" font-family="Liberation Sans, sans-serif" fill="#111">0.7076</text>
<text x="54.5" y="332.5" text-anchor="end" font-size="11.6" font-family="Liberation Sans, sans-serif" fill="#111">0.7080</text>
<text x="54.5" y="294.5" text-anchor="end" font-size="11.6" font-family="Liberation Sans, sans-serif" fill="#111">0.7084</text>
<text x="54.5" y="256.4" text-anchor="end" font-size="11.6" font-family="Liberation Sans, sans-serif" fill="#111">0.7088</text>
<text x="54.5" y="218.4" text-anchor="end" font-size="11.6" font-family="Liberation Sans, sans-serif" fill="#111">0.7092</text>
<text x="54.5" y="547.5" text-anchor="end" font-size="11.6" font-family="Liberation Sans, sans-serif" fill="#111">0.9</text>
<text x="54.5" y="484.3" text-anchor="end" font-size="11.6" font-family="Liberation Sans, sans-serif" fill="#111">1.2</text>
<text x="54.5" y="421.1" text-anchor="end" font-size="11.6" font-family="Liberation Sans, sans-serif" fill="#111">1.5</text>
<text x="54.5" y="769.4" text-anchor="end" font-size="11.6" font-family="Liberation Sans, sans-serif" fill="#111">5</text>
<text x="54.5" y="727.1" text-anchor="end" font-size="11.6" font-family="Liberation Sans, sans-serif" fill="#111">10</text>
<text x="54.5" y="684.8" text-anchor="end" font-size="11.6" font-family="Liberation Sans, sans-serif" fill="#111">15</text>
<text x="54.5" y="642.5" text-anchor="end" font-size="11.6" font-family="Liberation Sans, sans-serif" fill="#111">20</text>
<text x="54.5" y="600.2" text-anchor="end" font-size="11.6" font-family="Liberation Sans, sans-serif" fill="#111">25</text>
<text x="66.0" y="784" text-anchor="middle" font-size="13.6" font-family="Liberation Sans, sans-serif" fill="#111">585</text>
<text x="167.4" y="784" text-anchor="middle" font-size="13.6" font-family="Liberation Sans, sans-serif" fill="#111">580</text>
<text x="268.7" y="784" text-anchor="middle" font-size="13.6" font-family="Liberation Sans, sans-serif" fill="#111">575</text>
<text x="370.1" y="784" text-anchor="middle" font-size="13.6" font-family="Liberation Sans, sans-serif" fill="#111">570</text>
<text x="471.5" y="784" text-anchor="middle" font-size="13.6" font-family="Liberation Sans, sans-serif" fill="#111">565</text>
<text x="572.8" y="784" text-anchor="middle" font-size="13.6" font-family="Liberation Sans, sans-serif" fill="#111">560</text>
<text x="674.2" y="784" text-anchor="middle" font-size="13.6" font-family="Liberation Sans, sans-serif" fill="#111">555</text>
<text x="370.2" y="809.6" text-anchor="middle" font-size="18.3" font-family="Liberation Sans, sans-serif" fill="#111">Age (Ma)</text>
<text x="72.4" y="27.0" font-size="18" font-family="Liberation Sans, sans-serif" fill="#111">a</text>
<text x="72.4" y="216.6" font-size="18" font-family="Liberation Sans, sans-serif" fill="#111">b</text>
<text x="72.4" y="407.0" font-size="18" font-family="Liberation Sans, sans-serif" fill="#111">c</text>
<text x="72.4" y="595.9" font-size="18" font-family="Liberation Sans, sans-serif" fill="#111">d</text>
<text x="221" y="27.4" text-anchor="middle" font-size="18" font-family="Liberation Sans, sans-serif" fill="#111">pre-SE</text>
<text x="355.3" y="27.4" text-anchor="middle" font-size="18" font-family="Liberation Sans, sans-serif" fill="#111">SE</text>
<text x="557.9" y="27.4" text-anchor="middle" font-size="18" font-family="Liberation Sans, sans-serif" fill="#111">post-SE</text>
<text transform="translate(30.5,100.2) rotate(-90)" text-anchor="middle" font-size="18" font-family="Liberation Sans, sans-serif" fill="#111">δ<tspan font-size="12.2" dy="-6.6">7</tspan><tspan dy="6.6">Li</tspan><tspan font-size="12.2" dy="5.3">SW</tspan></text>
<text transform="translate(16.3,298.4) rotate(-90)" text-anchor="middle" font-size="18" font-family="Liberation Sans, sans-serif" fill="#111"><tspan font-size="12.2" dy="-7.2">87</tspan><tspan dy="7.2">Sr/</tspan><tspan font-size="12.2" dy="-7.2">86</tspan><tspan dy="7.2">Sr</tspan><tspan font-size="12.2" dy="5.3">sw</tspan></text>
<text transform="translate(27.1,480) rotate(-90)" text-anchor="middle" font-size="18" font-family="Liberation Sans, sans-serif" fill="#111">N(Sr)<tspan font-size="12.2" dy="5.0">SW</tspan></text>
<text transform="translate(34.3,670.0) rotate(-90)" text-anchor="middle" font-size="18.2" font-family="Liberation Sans, sans-serif" fill="#111">Silw (10<tspan font-size="12.2" dy="-7.2">12</tspan><tspan dy="7.2"> mol C/yr)</tspan></text>
<text x="99.0" y="467.7" font-size="16.6" font-family="Liberation Sans, sans-serif" fill="rgb(40,58,250)">Gaskiers glaciation</text>
<text x="176.8" y="555.8" font-size="18.3" font-family="Liberation Sans, sans-serif" fill="#fd8719">rise of the Transgondwanan Supermountains</text>
<line x1="175.2" y1="562.2" x2="522" y2="562.2" stroke="#fd8719" stroke-width="3.1"/>
<path d="M519,557.4 L534.8,562.2 L519,567.0 Z" fill="#fd8719"/>
<text x="240.2" y="740.6" font-size="14.8" font-family="Liberation Sans, sans-serif" fill="#111">574.0±4.7 Ma</text>
<text x="384.7" y="739.6" font-size="14.8" font-family="Liberation Sans, sans-serif" fill="#111">567.3±3.0 Ma</text>
<line x1="285.8" y1="765" x2="285.8" y2="750" stroke="#111" stroke-width="1"/>
<path d="M283.6,751.5 L285.8,742.3 L288.0,751.5 Z" fill="#111"/>
<line x1="417.3" y1="765" x2="417.3" y2="750" stroke="#111" stroke-width="1"/>
<path d="M415.1,751.5 L417.3,742.3 L419.5,751.5 Z" fill="#111"/></svg>
</body></html>
